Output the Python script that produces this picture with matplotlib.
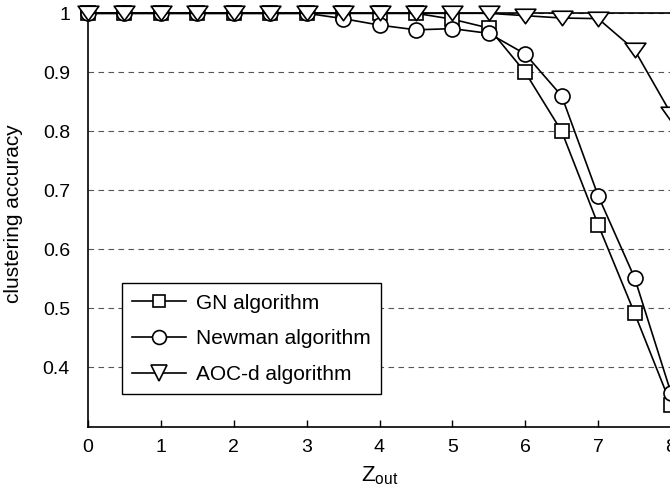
import numpy as np
import matplotlib
matplotlib.use('Agg')
import matplotlib.pyplot as plt
from matplotlib.path import Path
from matplotlib.lines import Line2D

plt.rcParams['font.family'] = ['Liberation Sans', 'DejaVu Sans']
plt.rcParams['mathtext.default'] = 'regular'

# Z_out values and clustering accuracy of each algorithm
z_out = [0, 0.5, 1, 1.5, 2, 2.5, 3, 3.5, 4, 4.5, 5, 5.5, 6, 6.5, 7, 7.5, 8]
gn_acc = [1, 1, 1, 1, 1, 1, 1, 1, 1, 1.0, 0.99, 0.975, 0.90, 0.80, 0.642, 0.492, 0.337]
newman_acc = [1, 1, 1, 1, 1, 1, 1, 0.991, 0.980, 0.972, 0.974, 0.966, 0.931, 0.860, 0.691, 0.552, 0.357]
aoc_acc = [1, 1, 1, 1, 1, 1, 1, 1, 1, 1, 1, 1, 0.996, 0.992, 0.991, 0.938, 0.83]

x_ticks = [0, 1, 2, 3, 4, 5, 6, 7, 8]
y_ticks = [0.4, 0.5, 0.6, 0.7, 0.8, 0.9, 1.0]
y_tick_labels = ['0.4', '0.5', '0.6', '0.7', '0.8', '0.9', '1']
series_names = ['GN algorithm', 'Newman algorithm', 'AOC-d algorithm']

# wide, flat down-pointing triangle
tri = Path([(-1, 0.7), (1, 0.7), (0, -0.7), (-1, 0.7)],
           [Path.MOVETO, Path.LINETO, Path.LINETO, Path.CLOSEPOLY])

fig = plt.figure(figsize=(6.7, 4.95), dpi=100)
ax = fig.add_axes([88 / 670, 1 - 426.5 / 495, 583 / 670, 413.2 / 495])

lw = 1.2
style = dict(color='black', lw=lw, markerfacecolor='white',
             markeredgecolor='black', markeredgewidth=lw)
ax.plot(z_out, gn_acc, marker='s', markersize=10, zorder=3, clip_on=False, **style)
ax.plot(z_out, newman_acc, marker='o', markersize=10.8, zorder=4, clip_on=False, **style)
ax.plot(z_out, aoc_acc, marker=tri, markersize=14.9, zorder=5, clip_on=False, **style)

ax.set_xlim(0, 8)
ax.set_ylim(0.3, 1.0)
ax.set_xticks(x_ticks)
ax.set_yticks(y_ticks)
ax.set_yticklabels(y_tick_labels)
ax.tick_params(axis='x', direction='in', length=5, width=1, labelsize=14, pad=9)
ax.tick_params(axis='y', direction='in', length=0, labelsize=14, pad=13)

for s in ax.spines.values():
    s.set_linewidth(1.2)
    s.set_color('black')

ax.set_axisbelow(True)
ax.yaxis.grid(True, color='#555555', lw=0.8, linestyle=(0, (5, 4)))

ax.set_xlabel(r'Z$_{out}$', fontsize=16, labelpad=6)
ax.set_ylabel('clustering accuracy', fontsize=15)
ax.yaxis.set_label_coords(-0.111, 0.514)

# legend markers are drawn a bit smaller than on the curves
handles = [
    Line2D([], [], marker='s', markersize=8, **style),
    Line2D([], [], marker='o', markersize=10, **style),
    Line2D([], [], marker='v', markersize=11, **style),
]
leg = ax.legend(handles, series_names, loc='upper left',
                bbox_to_anchor=(121.7 / 670, 1 - 283.3 / 495),
                bbox_transform=fig.transFigure, borderaxespad=0,
                fontsize=15, fancybox=False, framealpha=1,
                edgecolor='black', handlelength=2.6, handletextpad=0.45,
                labelspacing=0.8, borderpad=0.5)
leg.get_frame().set_linewidth(1.0)
leg.set_zorder(10)

fig.savefig('out.png', dpi=100)
